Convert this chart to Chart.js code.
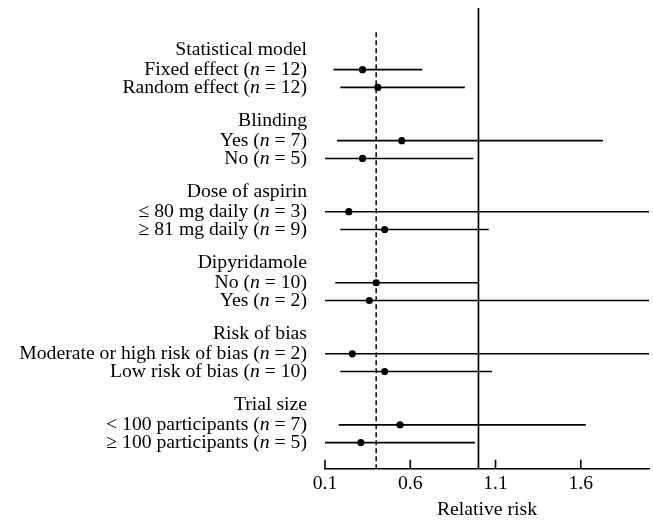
<!DOCTYPE html>
<html>
<head>
<meta charset="utf-8">
<script src="https://cdn.jsdelivr.net/npm/chart.js@4/dist/chart.umd.min.js"></script>
<style>
  html, body { margin: 0; padding: 0; background: #fff; }
  #wrap { width: 653px; height: 522px; }
</style>
</head>
<body>
<div id="wrap"><canvas id="forest"></canvas></div>
<script>
// subgroup analysis, relative risk with 95% CI
const groups = ['Statistical model', 'Blinding', 'Dose of aspirin', 'Dipyridamole', 'Risk of bias', 'Trial size'];
const subgroups = [
  'Fixed effect', 'Random effect',
  'Yes', 'No',
  '\u2264 80 mg daily', '\u2265 81 mg daily',
  'No', 'Yes',
  'Moderate or high risk of bias', 'Low risk of bias',
  '< 100 participants', '\u2265 100 participants'
];
const trialCounts = [12, 12, 7, 5, 3, 9, 10, 2, 2, 10, 7, 5];
const relativeRisk = [0.32, 0.41, 0.55, 0.32, 0.24, 0.45, 0.40, 0.36, 0.26, 0.45, 0.54, 0.31];
const ciLower = [0.15, 0.19, 0.17, 0.10, 0.10, 0.19, 0.16, 0.10, 0.10, 0.19, 0.18, 0.10];
const ciUpper = [0.67, 0.92, 1.73, 0.97, 2.40, 1.06, 1.00, 2.40, 2.40, 1.08, 1.63, 0.98];
const xTicks = [0.1, 0.6, 1.1, 1.6];
const pooledRR = 0.40;
const noEffect = 1.0;

const FONT = '"Liberation Serif", "DejaVu Serif", serif';
const FSIZE = 19.7;

// row layout: header, then two subgroups per group
const headerPos = groups.map((g, i) => i * 4);
const rowPos = subgroups.map((s, i) => Math.floor(i / 2) * 4 + (i % 2 === 0 ? 1.1 : 2.1));
const Y_MIN = -2.37, Y_MAX = 23.57;

const ciData = [];
subgroups.forEach((s, i) => {
  ciData.push({ x: ciLower[i], y: rowPos[i] });
  ciData.push({ x: ciUpper[i], y: rowPos[i] });
  ciData.push({ x: null, y: null });
});

const labelPlugin = {
  id: 'rowLabels',
  afterDraw(chart) {
    const ctx = chart.ctx;
    const y = chart.scales.y;
    const right = 307;
    ctx.save();
    ctx.fillStyle = '#000';
    ctx.textBaseline = 'middle';
    ctx.textAlign = 'left';
    const normal = FSIZE + 'px ' + FONT;
    const italic = 'italic ' + FSIZE + 'px ' + FONT;
    groups.forEach((g, i) => {
      ctx.font = normal;
      const w = ctx.measureText(g).width;
      ctx.fillText(g, right - w, y.getPixelForValue(headerPos[i]));
    });
    subgroups.forEach((s, i) => {
      const py = y.getPixelForValue(rowPos[i]);
      const a = s + ' (', b = 'n', c = ' = ' + trialCounts[i] + ')';
      ctx.font = normal;
      const wa = ctx.measureText(a).width, wc = ctx.measureText(c).width;
      ctx.font = italic;
      const wb = ctx.measureText(b).width;
      let x = right - wa - wb - wc;
      ctx.font = normal; ctx.fillText(a, x, py); x += wa;
      ctx.font = italic; ctx.fillText(b, x, py); x += wb;
      ctx.font = normal; ctx.fillText(c, x, py);
    });
    // inward tick marks on the x axis
    const xs = chart.scales.x;
    const bottom = chart.chartArea.bottom;
    ctx.strokeStyle = '#000';
    ctx.lineWidth = 1.6;
    xTicks.forEach(t => {
      const px = xs.getPixelForValue(t);
      ctx.beginPath();
      ctx.moveTo(px, bottom);
      ctx.lineTo(px, bottom - 9);
      ctx.stroke();
    });
    ctx.restore();
  }
};

new Chart(document.getElementById('forest'), {
  type: 'scatter',
  data: {
    datasets: [
      {
        label: 'No effect',
        data: [{ x: noEffect, y: Y_MIN }, { x: noEffect, y: Y_MAX }],
        showLine: true, borderColor: '#000', borderWidth: 1.7, pointRadius: 0
      },
      {
        label: 'Pooled estimate',
        data: [{ x: pooledRR, y: -1 }, { x: pooledRR, y: Y_MAX }],
        showLine: true, borderColor: '#000', borderWidth: 1.5, borderDash: [5, 3], pointRadius: 0
      },
      {
        label: '95% CI',
        data: ciData,
        showLine: true, spanGaps: false, borderColor: '#000', borderWidth: 1.6, pointRadius: 0
      },
      {
        label: 'Relative risk',
        data: relativeRisk.map((v, i) => ({ x: v, y: rowPos[i] })),
        pointRadius: 3.6, pointBackgroundColor: '#000', pointBorderColor: '#000', borderWidth: 0
      }
    ]
  },
  options: {
    responsive: true,
    maintainAspectRatio: false,
    animation: false,
    devicePixelRatio: 1,
    layout: { padding: { left: 325, right: 3, top: 8, bottom: 0 } },
    plugins: { legend: { display: false }, tooltip: { enabled: false } },
    scales: {
      x: {
        type: 'linear',
        min: 0.1,
        max: 2.0,
        afterBuildTicks: (scale) => { scale.ticks = xTicks.map(v => ({ value: v })); },
        grid: { drawOnChartArea: false, drawTicks: false },
        border: { display: true, color: '#000', width: 1.6 },
        ticks: {
          color: '#000', padding: 3,
          font: { family: FONT, size: FSIZE },
          callback: (v) => v.toFixed(1)
        },
        title: {
          display: true, text: 'Relative risk', color: '#000',
          font: { family: FONT, size: FSIZE }, padding: { top: 0, bottom: 0 }
        }
      },
      y: {
        type: 'linear',
        display: false,
        reverse: true,
        min: Y_MIN,
        max: Y_MAX
      }
    }
  },
  plugins: [labelPlugin]
});
</script>
</body>
</html>
